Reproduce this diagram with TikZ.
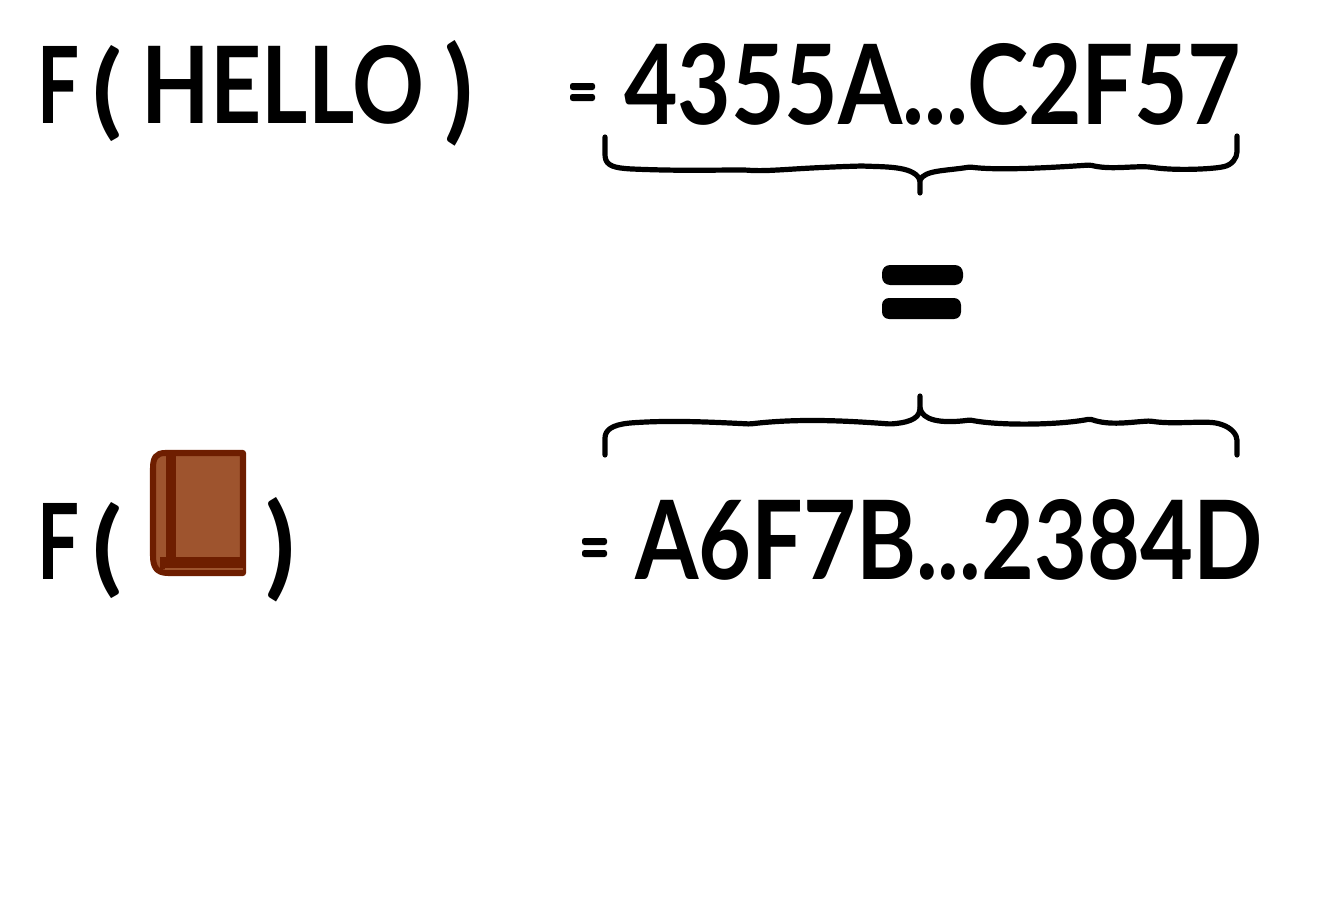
\documentclass[tikz,border=0pt]{standalone}
\usepackage{fontspec}
\usepackage{graphicx}
\usepackage{xcolor}
\setmainfont{Lato}
\usetikzlibrary{positioning,calc}
\definecolor{BookFill}{RGB}{158,84,46}
\definecolor{BookEdge}{RGB}{110,30,0}
\newcommand{\fitword}[3]{\resizebox{#1cm}{#2cm}{\bfseries #3}}
\tikzset{
    word/.style={anchor=north west, inner sep=0pt, outer sep=0pt, text=black},
    brace/.style={draw=black, line width=5.2pt*0.2845, line cap=round, line join=round, rounded corners=0.5pt},
    bookline/.style={draw=BookEdge, line cap=round, line join=round},
    eqbar/.style={fill=black, rounded corners=2.5pt*0.2845}
}
\begin{document}
\begin{tikzpicture}[x=0.01cm, y=-0.01cm]
    \useasboundingbox (0,0) rectangle (1335,915);

    % --- First row ---
    \node[word] (fone) at (37,46) {\fitword{0.42}{0.77}{F}};
    \node[word] (pone) at (92,45) {\fitword{0.30}{0.80}{(}};
    \node[word] (hello) at (142,45) {\fitword{2.82}{0.78}{HELLO}};
    \node[word] (qone) at (444,40) {\fitword{0.29}{0.88}{)}};
    \fill[eqbar] (570,83) rectangle (595,90);
    \fill[eqbar] (570,94) rectangle (595,101);
    \node[word] (hashone) at (624,43) {\fitword{6.17}{0.81}{4355A...C2F57}};

    % --- Upper brace ---
    \draw[brace] (605,137) -- (605,155)
        .. controls (606,166) and (615,168) .. (632,169)
        .. controls (680,171) and (710,170) .. (745,170)
        .. controls (770,172) and (790,168) .. (862,166)
        .. controls (885,167) and (912,166) .. (920,180) -- (920,193);
    \draw[brace] (920,180) .. controls (925,170) and (945,171) .. (970,167)
        .. controls (1000,171) and (1060,167) .. (1090,165)
        .. controls (1110,170) and (1130,166) .. (1150,167)
        .. controls (1175,171) and (1210,169) .. (1222,167)
        .. controls (1232,165) and (1237,158) .. (1237,150) -- (1237,136);

    % --- Middle equal sign ---
    \fill[rounded corners=8pt*0.2845] (882,265) rectangle (963,285);
    \fill[rounded corners=7pt*0.2845] (882,298) rectangle (961,319);

    % --- Lower brace ---
    \draw[brace] (920,396) -- (920,408)
        .. controls (919,420) and (905,423) .. (890,424)
        .. controls (850,421) and (800,418) .. (750,424)
        .. controls (710,422) and (670,420) .. (630,423)
        .. controls (612,425) and (605,430) .. (605,440) -- (605,455);
    \draw[brace] (920,408) .. controls (922,420) and (940,424) .. (970,420)
        .. controls (1000,426) and (1060,425) .. (1090,419)
        .. controls (1110,426) and (1130,422) .. (1150,421)
        .. controls (1175,425) and (1205,420) .. (1220,424)
        .. controls (1232,428) and (1237,435) .. (1237,442) -- (1237,455);

    % --- Second row ---
    \node[word] (ftwo) at (37,503) {\fitword{0.42}{0.76}{F}};
    \node[word] (ptwo) at (92,502) {\fitword{0.30}{0.80}{(}};

    % Book
    \filldraw[bookline, fill=BookFill, line width=6pt*0.2845]
        (165,453) -- (243,453) -- (243,573) -- (168,573)
        .. controls (156,573) and (153,566) .. (153,556)
        -- (153,468) .. controls (153,458) and (156,453) .. (165,453) -- cycle;
    \draw[bookline, line cap=butt, line width=10pt*0.2845] (171,453) -- (171,567);
    \draw[bookline, line cap=butt, line width=11pt*0.2845] (160,563) -- (246,563);
    \draw[draw=BookFill, line width=1.2pt*0.2845] (165,569) -- (243,569);

    \node[word] (qtwo) at (265,497) {\fitword{0.30}{0.87}{)}};
    \fill[eqbar] (582,538) rectangle (607,545);
    \fill[eqbar] (582,550) rectangle (607,557);
    \node[word] (hashtwo) at (635,499) {\fitword{6.27}{0.80}{A6F7B...2384D}};
\end{tikzpicture}
\end{document}
